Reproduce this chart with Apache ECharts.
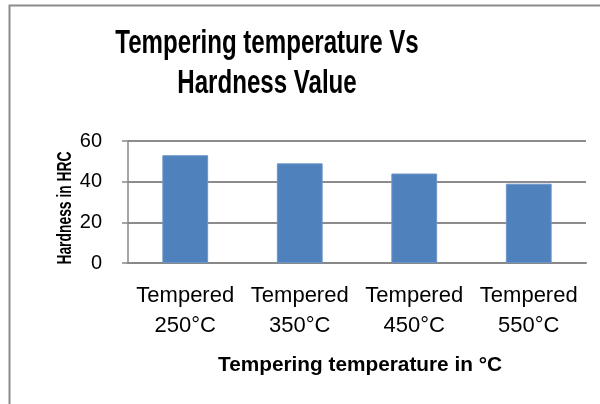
<!DOCTYPE html>
<html>
<head>
<meta charset="utf-8">
<script src="https://cdn.jsdelivr.net/npm/echarts@6/dist/echarts.min.js"></script>
<style>
  html, body { margin: 0; padding: 0; background: #fff; }
  #main { width: 600px; height: 404px; }
</style>
</head>
<body>
<div id="main"></div>
<script>
var categories = ['Tempered\n250°C', 'Tempered\n350°C', 'Tempered\n450°C', 'Tempered\n550°C']
var hardness = [53, 49, 44, 39]
var yTicks = { min: 0, max: 60, interval: 20 }

var fam = '"Liberation Sans", Arial, sans-serif'
var myChart = echarts.init(document.getElementById('main'))

// the original uses a narrow bold face, squeeze the bold texts horizontally
let option = {
    backgroundColor: '#fff',
    animation: false,
    graphic: [{
        type: 'rect',
        shape: { x: 9.5, y: 5.5, width: 620, height: 420 },
        style: { fill: 'none', stroke: '#8c8c8c', lineWidth: 2 },
        z: 0
    }, {
        type: 'text',
        x: 267, y: 44, scaleX: 0.73,
        style: {
            text: 'Tempering temperature Vs',
            textAlign: 'center', textVerticalAlign: 'middle',
            font: 'bold 33px ' + fam, fill: '#000'
        }
    }, {
        type: 'text',
        x: 267, y: 84, scaleX: 0.73,
        style: {
            text: 'Hardness Value',
            textAlign: 'center', textVerticalAlign: 'middle',
            font: 'bold 33px ' + fam, fill: '#000'
        }
    }, {
        type: 'text',
        x: 65, y: 208, rotation: Math.PI / 2, scaleX: 0.66,
        style: {
            text: 'Hardness in HRC',
            textAlign: 'center', textVerticalAlign: 'middle',
            font: 'bold 21px ' + fam, fill: '#000'
        }
    }, {
        type: 'text',
        x: 360, y: 365, scaleX: 0.99,
        style: {
            text: 'Tempering temperature in °C',
            textAlign: 'center', textVerticalAlign: 'middle',
            font: 'bold 21px ' + fam, fill: '#000'
        }
    }],
    grid: {
        left: 128,
        right: 14,
        top: 141,
        bottom: 141
    },
    xAxis: {
        type: 'category',
        data: categories,
        axisLine: { lineStyle: { color: '#888', width: 2 } },
        axisTick: { show: false },
        axisLabel: {
            fontFamily: fam,
            fontSize: 22,
            color: '#000',
            lineHeight: 30,
            margin: 18,
            interval: 0
        }
    },
    yAxis: {
        type: 'value',
        min: yTicks.min,
        max: yTicks.max,
        interval: yTicks.interval,
        axisLine: { show: true, lineStyle: { color: '#888', width: 1.5 } },
        axisTick: { show: true, length: 6, lineStyle: { color: '#888', width: 1.5 } },
        axisLabel: {
            fontFamily: fam,
            fontSize: 20,
            color: '#000',
            margin: 26
        },
        splitLine: { lineStyle: { color: '#8c8c8c', width: 2 } }
    },
    series: [{
        type: 'bar',
        data: hardness,
        barWidth: '40%',
        itemStyle: {
            color: '#4f81bd',
            borderColor: '#6b95c8',
            borderWidth: 1
        }
    }]
}
myChart.setOption(option)
</script>
</body>
</html>
